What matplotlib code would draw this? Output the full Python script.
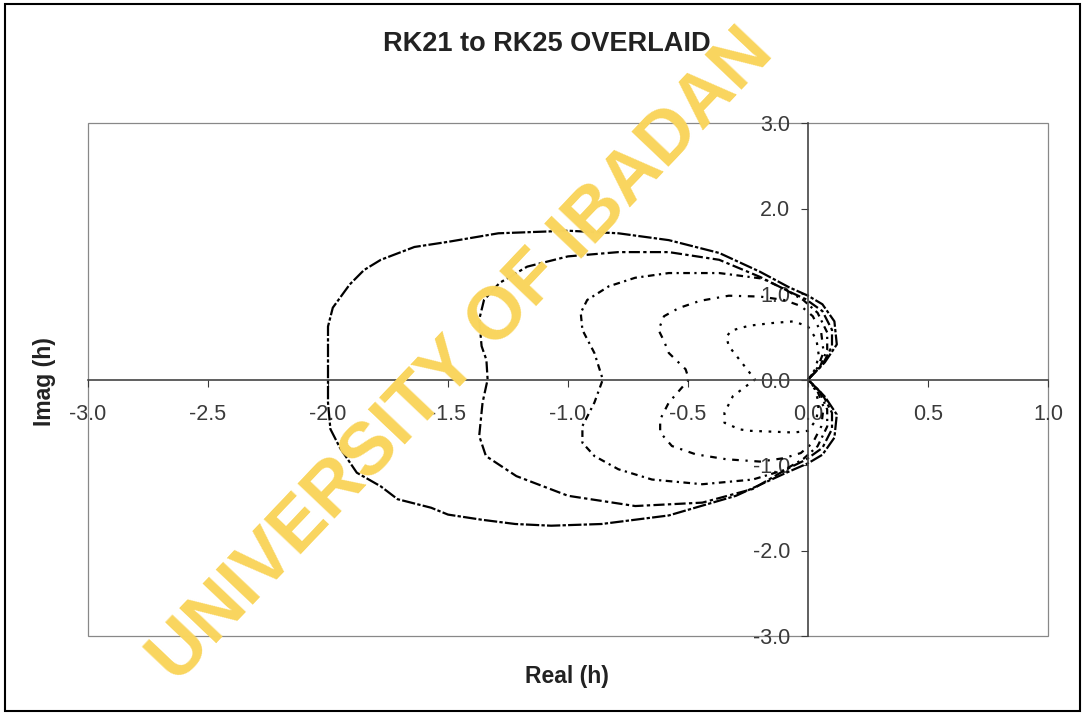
import numpy as np
import matplotlib.pyplot as plt
from matplotlib.patches import Rectangle

plt.rcParams['font.family'] = ['Liberation Sans', 'DejaVu Sans']

# Boundary points (real, imag), each curve traced round from the origin
rk21_x = [0.00, 0.07, 0.12, 0.11, 0.06, 0.00, -0.08, -0.20, -0.37, -0.58, -0.79, -1.00, -1.29, -1.50,
          -1.64, -1.78, -1.85, -1.91, -1.98, -2.00, -2.00,
          -2.00, -1.99, -1.95, -1.88, -1.78, -1.71, -1.57, -1.50, -1.36, -1.22, -1.07, -0.86, -0.58,
          -0.30, -0.09, 0.00, 0.06, 0.11, 0.12, 0.07, 0.00]
rk21_y = [0.00, 0.20, 0.41, 0.68, 0.88, 0.98, 1.08, 1.26, 1.48, 1.63, 1.71, 1.74, 1.71, 1.61,
          1.55, 1.40, 1.28, 1.11, 0.84, 0.62, 0.00,
          -0.27, -0.58, -0.80, -1.09, -1.25, -1.40, -1.50, -1.58, -1.64, -1.69, -1.71, -1.69, -1.59,
          -1.36, -1.09, -0.98, -0.88, -0.68, -0.41, -0.20, 0.00]

rk22_x = [0.00, 0.06, 0.10, 0.10, 0.06, -0.01, -0.08, -0.20, -0.37, -0.58, -0.79, -1.00, -1.17,
          -1.285, -1.35, -1.37, -1.36, -1.34, -1.335,
          -1.356, -1.37, -1.342, -1.215, -1.00, -0.72, -0.44, -0.23, -0.09, -0.01, 0.06, 0.10, 0.10,
          0.06, 0.00]
rk22_y = [0.00, 0.17, 0.39, 0.58, 0.80, 0.94, 1.03, 1.20, 1.40, 1.49, 1.49, 1.44, 1.32,
          1.13, 0.93, 0.70, 0.39, 0.23, 0.00,
          -0.27, -0.66, -0.895, -1.13, -1.36, -1.48, -1.44, -1.28, -1.05, -0.94, -0.80, -0.58, -0.39,
          -0.17, 0.00]

rk23_x = [0.00, 0.05, 0.08, 0.08, 0.04, -0.02, -0.10, -0.19, -0.37, -0.58, -0.72, -0.83, -0.92,
          -0.947, -0.94, -0.89, -0.855,
          -0.89, -0.94, -0.94, -0.89, -0.79, -0.65, -0.44, -0.23, -0.10, -0.02, 0.04, 0.08, 0.08,
          0.05, 0.00]
rk23_y = [0.00, 0.15, 0.35, 0.55, 0.78, 0.93, 1.06, 1.18, 1.245, 1.245, 1.19, 1.09, 0.93,
          0.78, 0.58, 0.31, 0.00,
          -0.27, -0.545, -0.74, -0.895, -1.05, -1.17, -1.225, -1.17, -1.06, -0.93, -0.78, -0.55, -0.35,
          -0.15, 0.00]

rk24_x = [0.00, 0.04, 0.065, 0.055, 0.02, -0.03, -0.10, -0.20, -0.33, -0.45, -0.538, -0.60, -0.623,
          -0.60, -0.58, -0.51, -0.496,
          -0.58, -0.616, -0.616, -0.567, -0.468, -0.34, -0.20, -0.10, -0.03, 0.02, 0.055, 0.065, 0.04,
          0.00]
rk24_y = [0.00, 0.14, 0.32, 0.55, 0.74, 0.86, 0.93, 0.97, 0.98, 0.92, 0.836, 0.74, 0.58,
          0.45, 0.31, 0.12, 0.00,
          -0.27, -0.467, -0.62, -0.778, -0.875, -0.933, -0.96, -0.92, -0.86, -0.74, -0.55, -0.32, -0.14,
          0.00]

rk25_x = [0.00, 0.03, 0.045, 0.035, 0.00, -0.06, -0.15, -0.243, -0.285, -0.32, -0.34, -0.33, -0.285,
          -0.221,
          -0.313, -0.348, -0.348, -0.285, -0.243, -0.15, -0.059, 0.00, 0.035, 0.045, 0.03, 0.00]
rk25_y = [0.00, 0.12, 0.28, 0.47, 0.62, 0.68, 0.66, 0.63, 0.60, 0.57, 0.50, 0.39, 0.23,
          0.00,
          -0.195, -0.389, -0.506, -0.583, -0.60, -0.61, -0.62, -0.60, -0.47, -0.28, -0.12, 0.00]

curves = [(rk21_x, rk21_y, (0, (6, 1, 1.5, 1))),
          (rk22_x, rk22_y, (0, (5, 1.5, 1.5, 1.5))),
          (rk23_x, rk23_y, (0, (3, 2, 1, 2))),
          (rk24_x, rk24_y, (0, (3, 3, 1, 3))),
          (rk25_x, rk25_y, (0, (1.2, 3)))]

x_ticks = [-3.0, -2.5, -2.0, -1.5, -1.0, -0.5, 0.0, 0.5, 1.0]
y_ticks = [-3.0, -2.0, -1.0, 0.0, 1.0, 2.0, 3.0]

W, H = 1085, 715
fig = plt.figure(figsize=(W / 100, H / 100), dpi=100)
ax = fig.add_axes([88 / W, 1 - 636 / H, (1048 - 88) / W, (636 - 123) / H])

for cx, cy, ls in curves:
    ax.plot(cx, cy, color='black', lw=1.6, linestyle=ls)

ax.set_xlim(-3, 1)
ax.set_ylim(-3, 3)
ax.spines['left'].set_position(('data', 0))
ax.spines['bottom'].set_position(('data', 0))
ax.spines['top'].set_visible(False)
ax.spines['right'].set_visible(False)
for s in ['left', 'bottom']:
    ax.spines[s].set_color('#444444')
    ax.spines[s].set_linewidth(1.2)
ax.add_patch(Rectangle((0, 0), 1, 1, transform=ax.transAxes, fill=False,
                       edgecolor='#888888', lw=0.9, clip_on=False))

ax.set_xticks(x_ticks)
ax.set_xticklabels(['%.1f' % v for v in x_ticks])
ax.set_yticks(y_ticks)
ax.set_yticklabels(['%.1f' % v for v in y_ticks])
ax.tick_params(direction='out', length=5, labelsize=15.5, colors='#3a3a3a')
ax.tick_params(axis='x', pad=13)
ax.tick_params(axis='y', pad=8)

fig.text(547 / W, 1 - 44 / H, 'RK21 to RK25 OVERLAID', ha='center', va='center',
         fontsize=19.5, fontweight='bold', color='#222222')
fig.text(567 / W, 1 - 677 / H, 'Real (h)', ha='center', va='center', fontsize=16.5,
         fontweight='bold', color='#222222')
fig.text(45 / W, 1 - 382 / H, 'Imag (h)', ha='center', va='center', rotation=90,
         fontsize=16.5, fontweight='bold', color='#222222')

# outer chart border
fig.add_artist(Rectangle((5 / W, 4 / H), 1075 / W, 707 / H, transform=fig.transFigure,
                         fill=False, edgecolor='black', lw=1.5))

# watermark
fig.text(0.426, 0.502, 'UNIVERSITY OF IBADAN', ha='center', va='center', rotation=46.5,
         rotation_mode='anchor', fontsize=53, fontweight='bold', color='#F9D55E', zorder=10)

fig.savefig('out.png', dpi=100)
